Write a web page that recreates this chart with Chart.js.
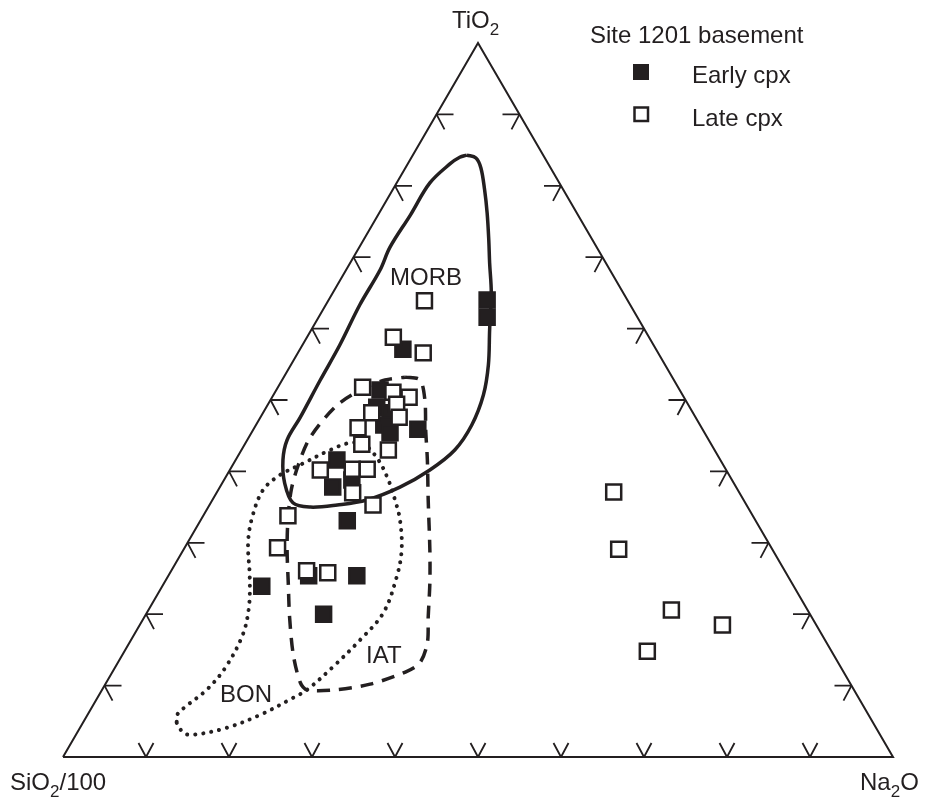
<!DOCTYPE html>
<html>
<head>
<meta charset="utf-8">
<script src="https://cdn.jsdelivr.net/npm/chart.js@4.4.0/dist/chart.umd.min.js"></script>
<style>
  body { margin: 0; background: #fff; }
  canvas { display: block; }
</style>
</head>
<body>
<canvas id="ternaryChart" width="927" height="802"></canvas>
<script>
'use strict';

// Clinopyroxene compositions (wt% ratios), TiO2 - SiO2/100 - Na2O
const earlyTiO2 = [64.0, 61.6, 57.1, 51.4, 49.0, 48.2, 46.5, 45.4, 45.9, 41.6, 38.8, 37.8, 33.1, 25.4, 25.4, 23.9, 20.0];
const earlySiO2 = [16.9, 18.1, 30.5, 36.1, 37.7, 36.5, 38.1, 37.9, 34.3, 46.2, 45.8, 48.6, 49.2, 57.7, 51.9, 64.1, 58.6];
const earlyNa2O = [19.1, 20.3, 12.4, 12.5, 13.3, 15.3, 15.4, 16.7, 19.8, 12.2, 15.4, 13.6, 17.7, 16.9, 22.7, 12.0, 21.4];

const lateTiO2 = [63.9, 58.8, 56.6, 51.8, 51.1, 50.4, 49.4, 48.2, 47.6, 46.1, 43.8, 43.0, 40.2, 40.3, 40.3, 37.0, 35.3, 33.8, 29.3, 26.1, 25.8, 37.1, 29.1, 20.6, 18.5, 14.8];
const lateSiO2 = [24.5, 30.8, 28.3, 38.0, 34.7, 33.1, 35.1, 38.7, 35.7, 41.4, 42.1, 39.3, 48.9, 45.0, 43.2, 46.6, 45.0, 56.0, 59.5, 57.6, 55.2, 15.1, 18.5, 16.4, 11.3, 22.2];
const lateNa2O = [11.6, 10.4, 15.1, 10.2, 14.2, 16.5, 15.5, 13.1, 16.7, 12.5, 14.1, 17.7, 10.9, 14.7, 16.5, 16.4, 19.7, 10.2, 11.2, 16.3, 19.0, 47.8, 52.4, 63.0, 70.2, 63.0];

// Discrimination fields, [TiO2, Na2O] (SiO2/100 = remainder)
const morbField = [
  [84.3, 6.5], [83.9, 7.8], [82.5, 9.1], [79.4, 11.1], [76.2, 13.0], [72.4, 15.1], [69.2, 16.8],
  [65.0, 19.1], [59.8, 21.5], [54.9, 23.8], [50.7, 25.3], [46.5, 26.0], [43.0, 25.7], [40.2, 24.1],
  [37.8, 21.7], [36.0, 18.6], [35.3, 15.4], [35.0, 12.3], [35.6, 9.9], [38.4, 7.5], [41.6, 5.7],
  [44.4, 4.8], [47.6, 4.8], [52.8, 4.6], [57.7, 4.5], [63.3, 4.1], [68.2, 4.1], [71.4, 3.7],
  [75.9, 3.9], [80.4, 4.0], [83.1, 5.1], [84.0, 5.8], [84.3, 6.5]
];
const iatField = [
  [53.2, 14.6], [52.8, 16.6], [50.0, 18.6], [45.8, 20.8], [41.6, 23.1], [36.0, 26.0], [29.0, 29.7],
  [24.4, 32.0], [19.6, 34.2], [16.0, 35.9], [13.2, 36.4], [11.9, 35.3], [10.2, 31.9], [9.4, 28.1],
  [9.4, 24.7], [10.4, 23.4], [14.3, 20.6], [19.6, 17.5], [24.1, 15.1], [29.0, 12.5], [33.2, 10.5],
  [37.4, 8.8], [40.9, 7.9], [44.8, 7.4], [49.3, 8.4], [51.7, 10.5], [52.8, 12.4], [53.2, 14.6]
];
const bonField = [
  [4.8, 11.3], [3.4, 12.8], [3.1, 14.1], [4.1, 17.7], [5.9, 20.8], [8.3, 23.6], [9.4, 24.7],
  [12.6, 26.2], [16.4, 27.6], [20.2, 28.5], [25.2, 27.6], [29.0, 26.3], [33.2, 24.0], [36.0, 22.0],
  [38.8, 19.8], [41.6, 17.2], [43.7, 14.5], [44.0, 12.6], [43.0, 10.7], [40.9, 8.1], [39.5, 6.4],
  [37.4, 5.4], [33.6, 6.0], [30.0, 7.3], [25.2, 9.9], [21.0, 11.9], [17.1, 13.1], [12.5, 13.3],
  [9.4, 12.6], [7.0, 11.2], [5.9, 10.8], [4.8, 11.3]
];

const tickFractions = [0.1, 0.2, 0.3, 0.4, 0.5, 0.6, 0.7, 0.8, 0.9];

const INK = '#231f20';
const FONT = '"Liberation Sans", Arial, sans-serif';

// ternary -> cartesian (x across base, y = TiO2 fraction)
function toXY(ti, si, na) {
  const sum = ti + si + na;
  const t = ti / sum, n = na / sum;
  return { x: n + t / 2, y: t };
}
function fieldPoints(field) {
  return field.map(p => toXY(p[0], 100 - p[0] - p[1], p[1]));
}
function samplePoints(ti, si, na) {
  return ti.map((t, i) => toXY(t, si[i], na[i]));
}

const frame = [toXY(0, 100, 0), toXY(0, 0, 100), toXY(100, 0, 0), toXY(0, 100, 0)];

function drawText(ctx, parts, x, y) {
  // parts: [text, isSubscript]
  let cx = x;
  parts.forEach(([txt, sub]) => {
    ctx.font = (sub ? '17px ' : '24px ') + FONT;
    ctx.fillText(txt, cx, sub ? y + 7 : y);
    cx += ctx.measureText(txt).width;
  });
}

const ternaryDecor = {
  id: 'ternaryDecor',
  afterDatasetsDraw(chart) {
    const ctx = chart.ctx;
    const xs = chart.scales.x, ys = chart.scales.y;
    const px = p => [xs.getPixelForValue(p.x), ys.getPixelForValue(p.y)];
    ctx.save();
    ctx.strokeStyle = INK;
    ctx.lineWidth = 1.8;
    ctx.lineCap = 'butt';
    tickFractions.forEach(f => {
      const marks = [
        [px({ x: f, y: 0 }), [[-7.5, -14], [7.5, -14]]],
        [px({ x: 0.5 + 0.5 * f, y: 1 - f }), [[-17, 0], [-8, 15]]],
        [px({ x: 0.5 - 0.5 * f, y: 1 - f }), [[17, 0], [8, 15]]]
      ];
      marks.forEach(([[x0, y0], arms]) => {
        ctx.beginPath();
        arms.forEach(([dx, dy]) => {
          ctx.moveTo(x0, y0);
          ctx.lineTo(x0 + dx, y0 + dy);
        });
        ctx.stroke();
      });
    });

    ctx.fillStyle = INK;
    ctx.textBaseline = 'alphabetic';
    drawText(ctx, [['TiO', false], ['2', true]], 452, 28);
    drawText(ctx, [['SiO', false], ['2', true], ['/100', false]], 10, 790);
    drawText(ctx, [['Na', false], ['2', true], ['O', false]], 860, 790);

    ctx.font = '24px ' + FONT;
    ctx.fillText('MORB', 390, 285);
    ctx.fillText('IAT', 366, 663);
    ctx.fillText('BON', 220, 702);

    // legend
    ctx.fillText('Site 1201 basement', 590, 43);
    ctx.fillText('Early cpx', 692, 83);
    ctx.fillText('Late cpx', 692, 126);
    ctx.lineWidth = 2.5;
    ctx.fillRect(633, 64, 16, 16);
    ctx.strokeRect(634.5, 107.5, 13.5, 13.5);
    ctx.restore();
  }
};

const ctx = document.getElementById('ternaryChart').getContext('2d');

new Chart(ctx, {
  type: 'scatter',
  data: {
    datasets: [
      {
        label: 'Late cpx',
        data: samplePoints(lateTiO2, lateSiO2, lateNa2O),
        pointStyle: 'rect',
        pointRadius: 10.6,
        pointBackgroundColor: '#ffffff',
        pointBorderColor: INK,
        pointBorderWidth: 2.5,
        order: 0
      },
      {
        label: 'Early cpx',
        data: samplePoints(earlyTiO2, earlySiO2, earlyNa2O),
        pointStyle: 'rect',
        pointRadius: 10.6,
        pointBackgroundColor: INK,
        pointBorderColor: INK,
        pointBorderWidth: 2.5,
        order: 1
      },
      {
        label: 'MORB',
        data: fieldPoints(morbField),
        showLine: true,
        pointRadius: 0,
        borderColor: INK,
        borderWidth: 3.5,
        tension: 0.35,
        order: 2
      },
      {
        label: 'IAT',
        data: fieldPoints(iatField),
        showLine: true,
        pointRadius: 0,
        borderColor: INK,
        borderWidth: 3.5,
        borderDash: [13, 9],
        tension: 0.3,
        order: 3
      },
      {
        label: 'BON',
        data: fieldPoints(bonField),
        showLine: true,
        pointRadius: 0,
        borderColor: INK,
        borderWidth: 4,
        borderDash: [0.1, 8],
        borderCapStyle: 'round',
        tension: 0.35,
        order: 4
      },
      {
        label: 'frame',
        data: frame,
        showLine: true,
        pointRadius: 0,
        borderColor: INK,
        borderWidth: 2,
        tension: 0,
        order: 5
      }
    ]
  },
  options: {
    responsive: false,
    animation: false,
    devicePixelRatio: 1,
    layout: { padding: 0, autoPadding: false },
    scales: {
      x: { type: 'linear', display: false, min: -63 / 830, max: 864 / 830 },
      y: { type: 'linear', display: false, min: -45 / 714, max: 757 / 714 }
    },
    plugins: {
      legend: { display: false },
      tooltip: { enabled: false }
    },
    elements: { line: { fill: false } }
  },
  plugins: [ternaryDecor]
});
</script>
</body>
</html>
